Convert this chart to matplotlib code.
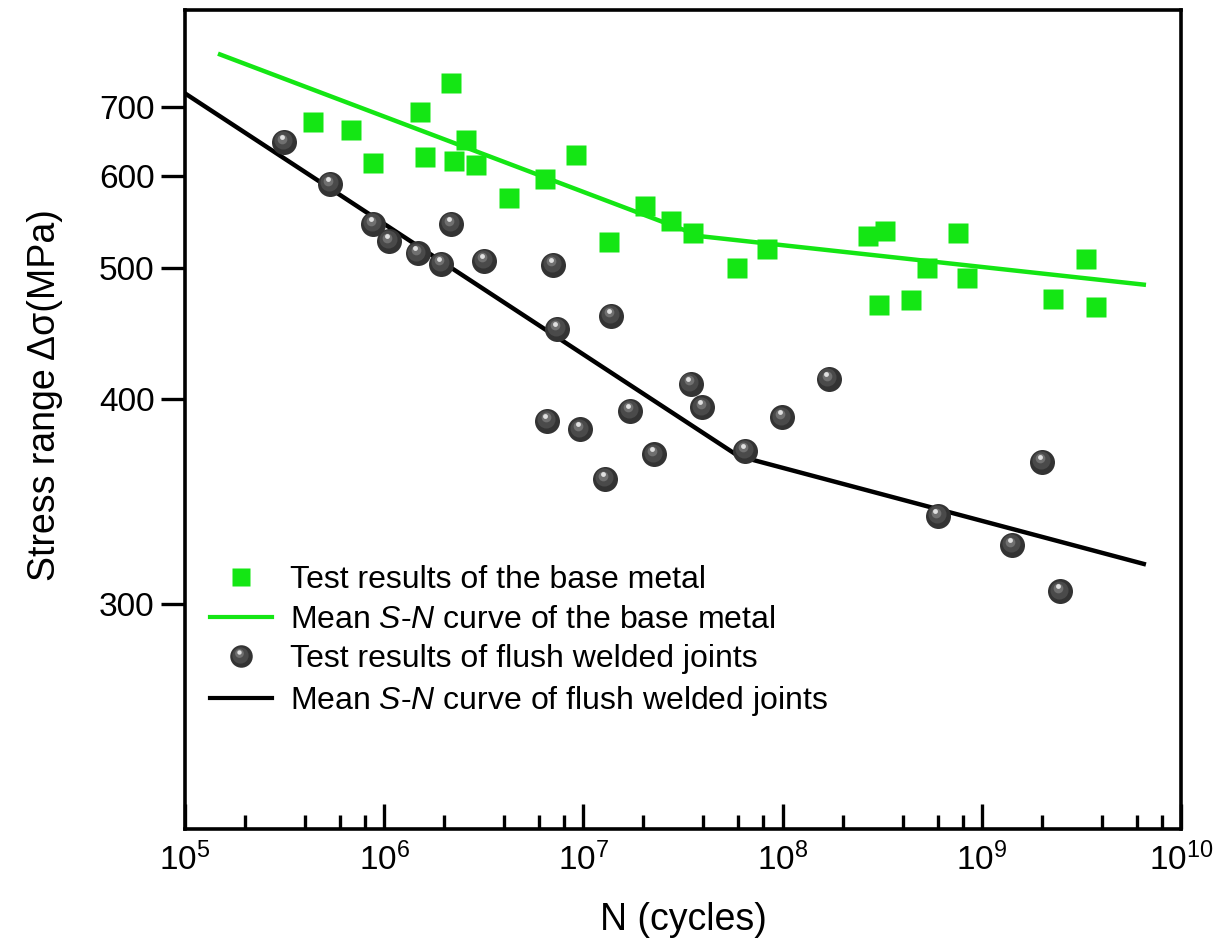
import matplotlib
matplotlib.use("Agg")
import matplotlib.pyplot as plt
import numpy as np
from matplotlib.lines import Line2D
from matplotlib.legend_handler import HandlerBase
from matplotlib.transforms import offset_copy
from matplotlib.ticker import FixedLocator, LogLocator, NullFormatter

plt.rcParams['font.family'] = ['Liberation Sans', 'DejaVu Sans']
plt.rcParams['mathtext.fontset'] = 'custom'
plt.rcParams['mathtext.rm'] = 'Liberation Sans'
plt.rcParams['mathtext.it'] = 'Liberation Sans:italic'

# base metal test results
base_N = [4.4e5, 6.8e5, 8.8e5, 1.52e6, 1.6e6, 2.17e6, 2.25e6, 2.58e6, 2.9e6, 4.25e6,
          6.4e6, 9.2e6, 1.34e7, 2.03e7, 2.74e7, 3.53e7, 5.9e7, 8.3e7, 2.67e8, 3.26e8,
          3.06e8, 4.4e8, 5.3e8, 7.6e8, 8.4e8, 2.28e9, 3.33e9, 3.74e9]
base_S = [676, 664, 617, 693, 625, 742, 620, 649, 614, 573,
          596, 628, 525, 564, 547, 534, 500, 518, 531, 536,
          468, 472, 500, 534, 491, 473, 508, 466]

# flush welded joints test results
weld_N = [3.14e5, 5.35e5, 8.8e5, 1.06e6, 1.47e6, 1.93e6, 2.17e6, 3.18e6, 7.07e6, 7.4e6,
          1.38e7, 6.6e6, 9.66e6, 1.72e7, 1.29e7, 2.27e7, 3.45e7, 3.96e7, 6.5e7, 9.9e7,
          1.7e8, 6.0e8, 1.42e9, 2.0e9, 2.47e9]
weld_S = [646, 590, 544, 526, 514, 504, 544, 507, 503, 449,
          459, 387, 382, 393, 355, 368, 410, 395, 370, 389,
          413, 337, 324, 364, 305]

# mean S-N curves (bilinear)
base_curve_N = [1.5e5, 3.87e7, 6.5e9]
base_curve_S = [799, 531, 485]
weld_curve_N = [1e5, 6.0e7, 6.5e9]
weld_curve_S = [724, 367, 316]

yticks = [300, 400, 500, 600, 700]

green = '#14e614'
sphere_layers = [(18, '#333333', 0, 0), (13, '#4a4a4a', -0.8, 1.2),
                 (7, '#707070', -1.4, 2.4), (3.5, '#e0e0e0', -1.6, 3.6)]

fig = plt.figure(figsize=(12.29, 9.44), dpi=100)
ax = fig.add_axes([0.1505, 0.1218, 0.8105, 0.8676])

ax.set_xscale('log')
ax.set_yscale('function', functions=(lambda y: -np.abs(y) ** -0.75,
                                     lambda t: np.abs(t) ** (-1 / 0.75)))

ax.plot(base_curve_N, base_curve_S, color=green, lw=3.2, zorder=2)
ax.plot(weld_curve_N, weld_curve_S, color='black', lw=3.2, zorder=2)
ax.plot(base_N, base_S, ls='none', marker='s', ms=14, color=green, mec='none', zorder=3)

for ms, c, dx, dy in sphere_layers:
    tr = offset_copy(ax.transData, fig=fig, x=dx, y=dy, units='points')
    ax.plot(weld_N, weld_S, ls='none', marker='o', ms=ms, color=c, mec='none',
            transform=tr, zorder=4)

ax.set_xlim(1e5, 1e10)
ax.set_ylim(232, 903)

ax.xaxis.set_major_locator(LogLocator(base=10, numticks=20))
ax.xaxis.set_minor_locator(LogLocator(base=10, subs=[2, 4, 6, 8], numticks=20))
ax.xaxis.set_minor_formatter(NullFormatter())
ax.yaxis.set_major_locator(FixedLocator(yticks))
ax.yaxis.set_minor_locator(FixedLocator([]))
ax.set_yticklabels([str(v) for v in yticks])

ax.tick_params(axis='x', which='major', direction='in', length=18, width=2.4,
               labelsize=24, pad=10)
ax.tick_params(axis='x', which='minor', direction='in', length=10, width=2.4)
ax.tick_params(axis='y', which='major', direction='out', length=17, width=2.4,
               labelsize=24, pad=5)
for s in ax.spines.values():
    s.set_linewidth(2.6)

ax.set_xlabel('N (cycles)', fontsize=27, labelpad=18)
ax.set_ylabel('Stress range Δσ(MPa)', fontsize=27)
ax.yaxis.set_label_coords(-0.122, 0.53)


class SphereHandler(HandlerBase):
    def create_artists(self, legend, orig_handle, xdescent, ydescent,
                       width, height, fontsize, trans):
        cx = width / 2 - xdescent
        cy = height / 2 - ydescent
        arts = []
        for ms, c, dx, dy in sphere_layers:
            k = 0.9
            arts.append(Line2D([cx + dx * k], [cy + dy * k], ls='none', marker='o',
                               ms=ms * k, color=c, mec='none', transform=trans))
        return arts


class SphereKey:
    pass


handles = [Line2D([], [], ls='none', marker='s', ms=13, color=green, mec='none'),
           Line2D([], [], color=green, lw=3),
           SphereKey(),
           Line2D([], [], color='black', lw=3)]
labels = ['Test results of the base metal',
          'Mean $S$-$N$ curve of the base metal',
          'Test results of flush welded joints',
          'Mean $S$-$N$ curve of flush welded joints']
ax.legend(handles, labels, handler_map={SphereKey: SphereHandler()},
          loc='upper left', bbox_to_anchor=(0.025, 0.322), frameon=False,
          borderpad=0, borderaxespad=0,
          fontsize=23, handlelength=1.95, handletextpad=0.55, labelspacing=0.3)

fig.savefig('out.png', dpi=100)
